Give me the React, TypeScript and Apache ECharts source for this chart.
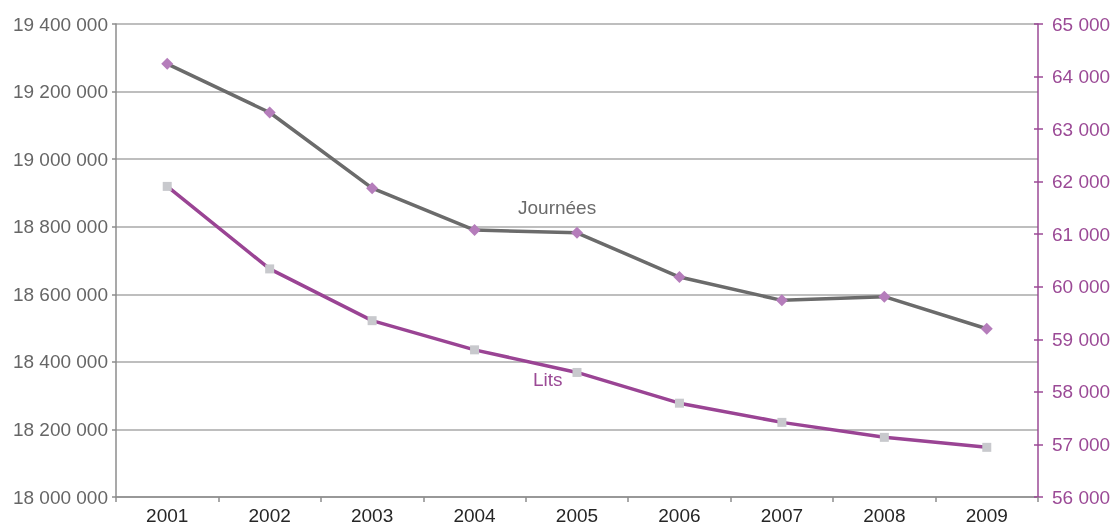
import React, { useEffect, useRef } from "react";
import * as echarts from "echarts";

const years = ["2001", "2002", "2003", "2004", "2005", "2006", "2007", "2008", "2009"];
const journees = [19282000, 19138000, 18914000, 18790000, 18782000, 18651000, 18582000, 18593000, 18498000];
const lits = [61910, 60340, 59355, 58800, 58370, 57785, 57420, 57135, 56945];

const FONT = "'Liberation Sans', Arial, sans-serif";
const FS = 19;
const fmt = (v: number) => String(Math.round(v)).replace(/\B(?=(\d{3})+(?!\d))/g, " ");

export default function App() {
  const ref = useRef<HTMLDivElement>(null);
  useEffect(() => {
    if (!ref.current) return;
    const chart = echarts.init(ref.current, null, { renderer: "svg" });
    chart.setOption({
      animation: false,
      grid: { left: 116, right: 76, top: 24, bottom: 26, containLabel: false },
      xAxis: {
        type: "category",
        data: years,
        boundaryGap: true,
        axisLine: { lineStyle: { color: "#8c8c8c", width: 1.5 } },
        axisTick: { show: true, length: 5, interval: 0, lineStyle: { color: "#8c8c8c", width: 1.5 } },
        axisLabel: { color: "#262626", fontFamily: FONT, fontSize: FS, margin: 9, interval: 0 },
      },
      yAxis: [
        {
          type: "value",
          position: "left",
          min: 18000000,
          max: 19400000,
          interval: 200000,
          axisLine: { show: true, lineStyle: { color: "#8c8c8c", width: 1.5 } },
          axisTick: { show: true, length: 4, lineStyle: { color: "#8c8c8c", width: 1.5 } },
          axisLabel: { color: "#666666", fontFamily: FONT, fontSize: FS, margin: 8, formatter: fmt },
          splitLine: { show: true, lineStyle: { color: "#a8a8a8", width: 1.5 } },
        },
        {
          type: "value",
          position: "right",
          min: 56000,
          max: 65000,
          interval: 1000,
          axisLine: { show: true, lineStyle: { color: "#9b4a96", width: 1.5 } },
          axisTick: { show: true, length: 5, lineStyle: { color: "#9b4a96", width: 1.5 } },
          axisLabel: { color: "#9b4a96", fontFamily: FONT, fontSize: FS, margin: 14, formatter: fmt },
          splitLine: { show: false },
        },
        {
          type: "value",
          position: "right",
          min: 56000,
          max: 65000,
          interval: 1000,
          axisLine: { show: false },
          axisTick: { show: true, inside: true, length: 4, lineStyle: { color: "#9b4a96", width: 1.5 } },
          axisLabel: { show: false },
          splitLine: { show: false },
        },
      ],
      series: [
        {
          name: "Journées",
          type: "line",
          yAxisIndex: 0,
          data: journees,
          symbol: "diamond",
          symbolSize: 12,
          itemStyle: { color: "#b57dbb" },
          lineStyle: { color: "#6b6b6b", width: 3.5 },
          z: 3,
        },
        {
          name: "Lits",
          type: "line",
          yAxisIndex: 1,
          data: lits,
          symbol: "rect",
          symbolSize: 9,
          itemStyle: { color: "#c8c9cd" },
          lineStyle: { color: "#9a4494", width: 3.5 },
          z: 3,
        },
      ],
      graphic: [
        {
          type: "text",
          left: 518,
          top: 198,
          style: { text: "Journées", fill: "#6a6a6a", font: `${FS}px ${FONT}` },
        },
        {
          type: "text",
          left: 533,
          top: 370,
          style: { text: "Lits", fill: "#9b4a96", font: `${FS}px ${FONT}` },
        },
      ],
    });
    return () => chart.dispose();
  }, []);
  return <div ref={ref} style={{ position: "fixed", left: 0, top: 0, width: 1114, height: 525 }} />;
}
